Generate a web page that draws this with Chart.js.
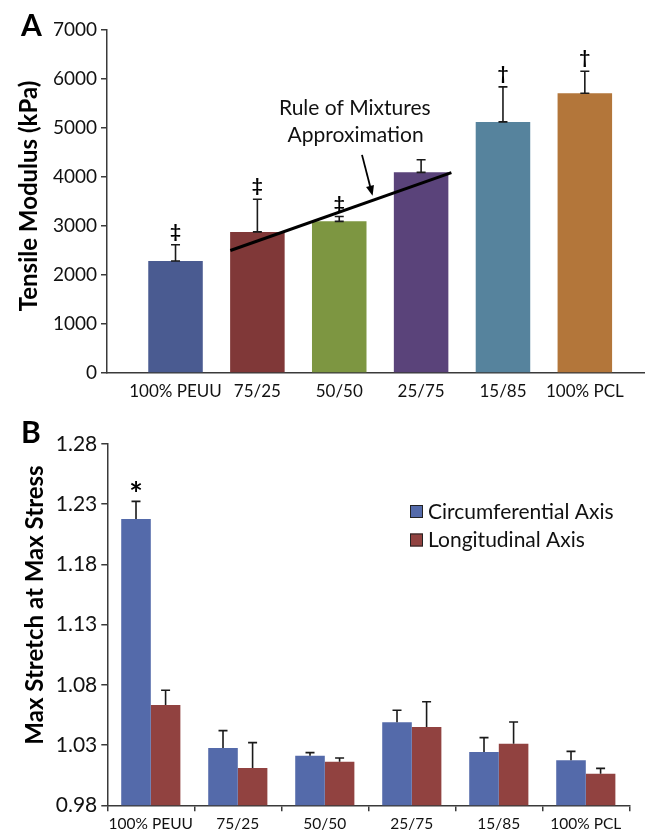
<!DOCTYPE html>
<html>
<head>
<meta charset="utf-8">
<script src="https://cdn.jsdelivr.net/npm/chart.js@4.4.0/dist/chart.umd.min.js"></script>
<style>
  body { margin: 0; background: #fff; width: 645px; height: 838px; position: relative; overflow: hidden; font-family: Lato, sans-serif; }
  canvas { position: absolute; left: 0; }
  #chartA { top: 0; }
  #chartB { top: 410px; }
  .panel { position: absolute; font: bold 30px Lato, sans-serif; color: #000; line-height: 1; }
</style>
</head>
<body>
<canvas id="chartA" width="645" height="410"></canvas>
<canvas id="chartB" width="645" height="428"></canvas>
<div class="panel" style="left:21px;top:9px">A</div>
<div class="panel" style="left:21px;top:416px">B</div>

<script>
// categories shared by both panels
var categories = ['100% PEUU', '75/25', '50/50', '25/75', '15/85', '100% PCL'];
var categoryIdx = [0, 1, 2, 3, 4, 5];

// panel A: tensile modulus (kPa), upper error, significance marks
var modulus = [2285, 2880, 3095, 4095, 5125, 5710];
var modulusErr = [332, 667, 100, 258, 714, 449];
var modulusMarks = ['\u2021', '\u2021', '\u2021', '', '\u2020', '\u2020'];
var modulusColors = ['#4A5B91', '#803838', '#7D9641', '#5A437A', '#56839D', '#B3763A'];
var modulusTicks = [0, 1000, 2000, 3000, 4000, 5000, 6000, 7000];

// rule of mixtures line (x in category units)
var ruleX = [0.67, 3.37];
var ruleY = [2500, 4090];

// panel B: max stretch at max stress
var circ = [1.2177, 1.0276, 1.0212, 1.0489, 1.0243, 1.0174];
var circErr = [0.0147, 0.0144, 0.0025, 0.0100, 0.0119, 0.0074];
var longi = [1.0633, 1.0110, 1.0162, 1.0450, 1.0312, 1.0063];
var longiErr = [0.0122, 0.0210, 0.0031, 0.0210, 0.0180, 0.0044];
var stretchMarks = ['*', '', '', '', '', ''];
var stretchTicks = [0.98, 1.03, 1.08, 1.13, 1.18, 1.23, 1.28];

var axisColor = '#3a3a3a';
var textColor = '#111';
Chart.defaults.font.family = 'Lato, sans-serif';
Chart.defaults.color = textColor;

// error bars (upper only) drawn from the bar elements and the y scale
function errorBars(sets, bottomCap) {
  return {
    id: 'errorBars',
    afterDatasetsDraw: function (chart) {
      var ctx = chart.ctx, y = chart.scales.y;
      ctx.save();
      ctx.strokeStyle = '#1a1a1a';
      ctx.lineWidth = 1.6;
      sets.forEach(function (s) {
        var meta = chart.getDatasetMeta(s.dataset);
        meta.data.forEach(function (bar, i) {
          var x = bar.x;
          var yBar = y.getPixelForValue(s.values[i]);
          var yCap = y.getPixelForValue(s.values[i] + s.errors[i]);
          ctx.beginPath();
          ctx.moveTo(x, yBar);
          ctx.lineTo(x, yCap);
          ctx.moveTo(x - 4.5, yCap);
          ctx.lineTo(x + 4.5, yCap);
          if (bottomCap) {
            ctx.moveTo(x - 4.5, yBar);
            ctx.lineTo(x + 4.5, yBar);
          }
          ctx.stroke();
          if (s.marks[i]) {
            ctx.fillStyle = '#000';
            ctx.textAlign = 'center';
            ctx.textBaseline = 'middle';
            if (s.marks[i] === '*') {
              ctx.font = 'bold 32px Lato, sans-serif';
              ctx.fillText(s.marks[i], x, yCap - 6);
            } else {
              ctx.font = 'bold 19px Lato, sans-serif';
              ctx.fillText(s.marks[i], x, yCap - 13);
            }
          }
        });
      });
      ctx.restore();
    }
  };
}

// rotated y-axis title placed beside the axis
function sideTitle(text, size, cx, cy) {
  return {
    id: 'sideTitle',
    afterDraw: function (chart) {
      var ctx = chart.ctx;
      ctx.save();
      ctx.translate(cx, cy);
      ctx.rotate(-Math.PI / 2);
      ctx.fillStyle = '#000';
      ctx.font = 'bold ' + size + 'px Lato, sans-serif';
      ctx.textAlign = 'center';
      ctx.textBaseline = 'middle';
      ctx.fillText(text, 0, 0);
      ctx.restore();
    }
  };
}

// text + arrow for the rule of mixtures line
var ruleNote = {
  id: 'ruleNote',
  afterDatasetsDraw: function (chart) {
    var ctx = chart.ctx, xs = chart.scales.x, ys = chart.scales.y;
    ctx.save();
    ctx.fillStyle = textColor;
    ctx.font = '21px Lato, sans-serif';
    ctx.textAlign = 'center';
    ctx.textBaseline = 'middle';
    ctx.fillText('Rule of Mixtures', xs.getPixelForValue(2.19), ys.getPixelForValue(5410));
    ctx.fillText('Approximation', xs.getPixelForValue(2.2), ys.getPixelForValue(4860));
    var x0 = xs.getPixelForValue(2.278), y0 = ys.getPixelForValue(4452);
    var x1 = xs.getPixelForValue(2.407), y1 = ys.getPixelForValue(3616);
    var a = Math.atan2(y1 - y0, x1 - x0);
    ctx.strokeStyle = '#000';
    ctx.lineWidth = 1.8;
    ctx.beginPath();
    ctx.moveTo(x0, y0);
    ctx.lineTo(x1 - 6 * Math.cos(a), y1 - 6 * Math.sin(a));
    ctx.stroke();
    ctx.beginPath();
    ctx.moveTo(x1, y1);
    ctx.lineTo(x1 - 11 * Math.cos(a - 0.38), y1 - 11 * Math.sin(a - 0.38));
    ctx.lineTo(x1 - 11 * Math.cos(a + 0.38), y1 - 11 * Math.sin(a + 0.38));
    ctx.closePath();
    ctx.fillStyle = '#000';
    ctx.fill();
    ctx.restore();
  }
};

// legend box for panel B
var boxLegend = {
  id: 'boxLegend',
  afterDraw: function (chart) {
    var ctx = chart.ctx;
    ctx.save();
    ctx.font = '21px Lato, sans-serif';
    ctx.textBaseline = 'middle';
    ctx.textAlign = 'left';
    chart.data.datasets.forEach(function (ds, i) {
      var top = 95 + i * 28.5;
      ctx.fillStyle = ds.backgroundColor;
      ctx.fillRect(410, top, 13, 13);
      ctx.strokeStyle = '#222';
      ctx.lineWidth = 1;
      ctx.strokeRect(410.5, top + 0.5, 12, 12);
      ctx.fillStyle = textColor;
      ctx.fillText(ds.label, 428, top + 7);
    });
    ctx.restore();
  }
};

/* Panel A */
var ctxA = document.getElementById('chartA').getContext('2d');
var chartA = new Chart(ctxA, {
  type: 'bar',
  data: {
    datasets: [{
      type: 'line',
      data: ruleX.map(function (x, i) { return { x: x, y: ruleY[i] }; }),
      borderColor: '#000',
      borderWidth: 3,
      pointRadius: 0,
      order: 0
    }, {
      type: 'bar',
      data: modulus.map(function (v, i) { return { x: categoryIdx[i], y: v }; }),
      backgroundColor: modulusColors,
      barPercentage: 0.666,
      categoryPercentage: 1,
      order: 1
    }]
  },
  options: {
    responsive: false,
    animation: false,
    layout: { padding: { top: 30, right: 0, left: 0, bottom: 0 } },
    plugins: { legend: { display: false }, tooltip: { enabled: false } },
    scales: {
      x: {
        type: 'linear',
        min: -0.837,
        max: 5.735,
        offset: false,
        afterBuildTicks: function (s) { s.ticks = categoryIdx.map(function (v) { return { value: v }; }); },
        grid: { display: false, drawTicks: false },
        border: { color: axisColor, width: 1.5 },
        ticks: {
          autoSkip: false,
          maxRotation: 0,
          padding: 8,
          color: textColor,
          font: { size: 17 },
          callback: function (v) { return categories[v]; }
        },
        afterFit: function (s) { s.height = 37; }
      },
      y: {
        min: 0,
        max: 7000,
        afterBuildTicks: function (s) { s.ticks = modulusTicks.map(function (v) { return { value: v }; }); },
        grid: { drawOnChartArea: false, tickLength: 6, color: axisColor, lineWidth: 1.5 },
        border: { color: axisColor, width: 1.5 },
        ticks: { padding: 4, color: textColor, font: { size: 19 }, callback: function (v) { return String(v); } },
        afterFit: function (s) { s.width = 107; }
      }
    }
  },
  plugins: [errorBars([{ dataset: 1, values: modulus, errors: modulusErr, marks: modulusMarks }], true), ruleNote,
            sideTitle('Tensile Modulus (kPa)', 24, 29, 196)]
});

/* Panel B */
var ctxB = document.getElementById('chartB').getContext('2d');
var chartB = new Chart(ctxB, {
  type: 'bar',
  data: {
    labels: categories,
    datasets: [{
      label: 'Circumferential Axis',
      data: circ,
      backgroundColor: '#546AAA',
      categoryPercentage: 0.68,
      barPercentage: 1
    }, {
      label: 'Longitudinal Axis',
      data: longi,
      backgroundColor: '#914240',
      categoryPercentage: 0.68,
      barPercentage: 1
    }]
  },
  options: {
    responsive: false,
    animation: false,
    layout: { padding: { top: 34, right: 15.7, left: 0, bottom: 0 } },
    plugins: { legend: { display: false }, tooltip: { enabled: false } },
    scales: {
      x: {
        grid: { drawOnChartArea: false, offset: true, tickLength: 6, color: axisColor, lineWidth: 1.5 },
        border: { color: axisColor, width: 1.5 },
        ticks: { padding: 3, color: textColor, font: { size: 15.5 }, maxRotation: 0, autoSkip: false },
        afterFit: function (s) { s.height = 32.7; }
      },
      y: {
        min: 0.98,
        max: 1.28,
        afterBuildTicks: function (s) { s.ticks = stretchTicks.map(function (v) { return { value: v }; }); },
        grid: { drawOnChartArea: false, tickLength: 6, color: axisColor, lineWidth: 1.5 },
        border: { color: axisColor, width: 1.5 },
        ticks: { padding: 4, color: textColor, font: { size: 21 }, callback: function (v) { return v.toFixed(2); } },
        afterFit: function (s) { s.width = 107.3; }
      }
    }
  },
  plugins: [errorBars([
    { dataset: 0, values: circ, errors: circErr, marks: stretchMarks },
    { dataset: 1, values: longi, errors: longiErr, marks: ['', '', '', '', '', ''] }
  ], false), boxLegend, sideTitle('Max Stretch at Max Stress', 24, 35, 195)]
});
</script>
</body>
</html>
